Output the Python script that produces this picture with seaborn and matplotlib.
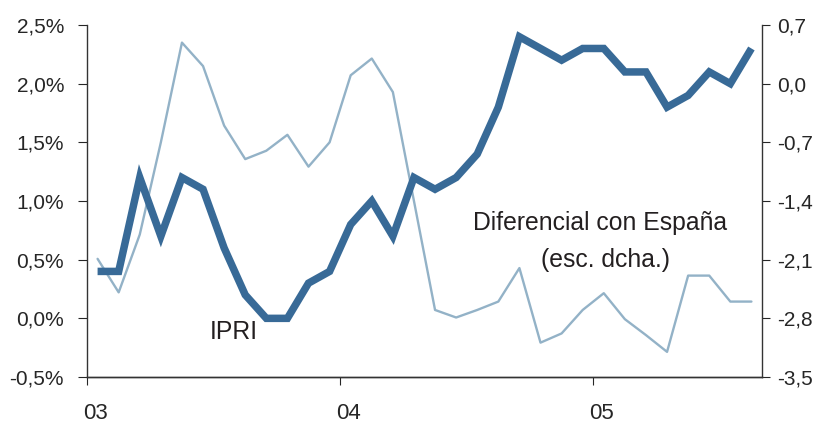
import matplotlib
matplotlib.use("Agg")
import matplotlib.pyplot as plt
import pandas as pd
import seaborn as sns

# monthly data, Jan 2003 - Aug 2005 (x = months since Jan 2003, mid-month)
months = [m + 0.5 for m in range(32)]
ipri = [0.4, 0.4, 1.2, 0.7, 1.2, 1.1, 0.6, 0.2, 0.0, 0.0, 0.3, 0.4,
        0.8, 1.0, 0.7, 1.2, 1.1, 1.2, 1.4, 1.8, 2.4, 2.3, 2.2, 2.3,
        2.3, 2.1, 2.1, 1.8, 1.9, 2.1, 2.0, 2.3]
diferencial = [-2.09, -2.49, -1.8, -0.7, 0.49, 0.21, -0.5, -0.9, -0.8, -0.61, -0.99, -0.7,
               0.1, 0.3, -0.1, -1.4, -2.7, -2.79, -2.7, -2.6, -2.2, -3.09, -2.98, -2.7,
               -2.5, -2.81, -3.0, -3.2, -2.29, -2.29, -2.6, -2.6]
year_labels = ['03', '04', '05']
left_ticks = [-0.5, 0.0, 0.5, 1.0, 1.5, 2.0, 2.5]
right_ticks = [-3.5, -2.8, -2.1, -1.4, -0.7, 0.0, 0.7]

df = pd.DataFrame({'mes': months, 'IPRI': ipri, 'dif': diferencial})

sns.set_style("ticks")
plt.rcParams['font.family'] = ['Liberation Sans', 'DejaVu Sans']
plt.rcParams['font.size'] = 15

fig = plt.figure(figsize=(8.18, 4.26), dpi=100)
ax = fig.add_axes([0.1064, 0.115, 0.8251, 0.8263])
ax2 = ax.twinx()

sns.lineplot(data=df, x='mes', y='dif', ax=ax2, color='#93b2c7', linewidth=1.7)
sns.lineplot(data=df, x='mes', y='IPRI', ax=ax, color='#386a97', linewidth=5.4,
             solid_capstyle='butt', solid_joinstyle='miter')
ax.set_zorder(ax2.get_zorder() + 1)
ax.patch.set_visible(False)

ax.set_xlim(0, 32)
ax.set_ylim(-0.5, 2.5)
ax2.set_ylim(-3.5, 0.7)

ax.set_yticks(left_ticks)
ax.set_yticklabels([f"{v:.1f}%".replace('.', ',') for v in left_ticks])
ax2.set_yticks(right_ticks)
ax2.set_yticklabels([f"{v:.1f}".replace('.', ',') for v in right_ticks])

ax.set_xticks([0, 12, 24])
ax.set_xticklabels([])
ax.set_xticks([0.4, 12.4, 24.4], minor=True)
ax.set_xticklabels(year_labels, minor=True)
ax.tick_params(axis='x', which='minor', length=0, pad=19, labelsize=16)
ax.tick_params(axis='x', which='major', length=6, direction='out')
ax.tick_params(axis='y', length=6.5, direction='out', labelsize=15, pad=10)
ax2.tick_params(axis='y', length=6, direction='out', labelsize=15, pad=5)

for a in (ax, ax2):
    a.set_xlabel('')
    a.set_ylabel('')
    a.spines['top'].set_visible(False)
    for s in ('left', 'right', 'bottom'):
        a.spines[s].set_color('#333333')
        a.spines[s].set_linewidth(1.0)
ax.spines['right'].set_visible(False)
ax2.spines['left'].set_visible(False)

ax.text(6.95, -0.12, 'IPRI', ha='center', va='center', fontsize=17.8, color='#231f20')
ax.text(24.32, 0.81, 'Diferencial con España', ha='center', va='center',
        fontsize=17.8, color='#231f20')
ax.text(24.6, 0.50, '(esc. dcha.)', ha='center', va='center',
        fontsize=17.8, color='#231f20')

fig.savefig('out.png', dpi=100)
